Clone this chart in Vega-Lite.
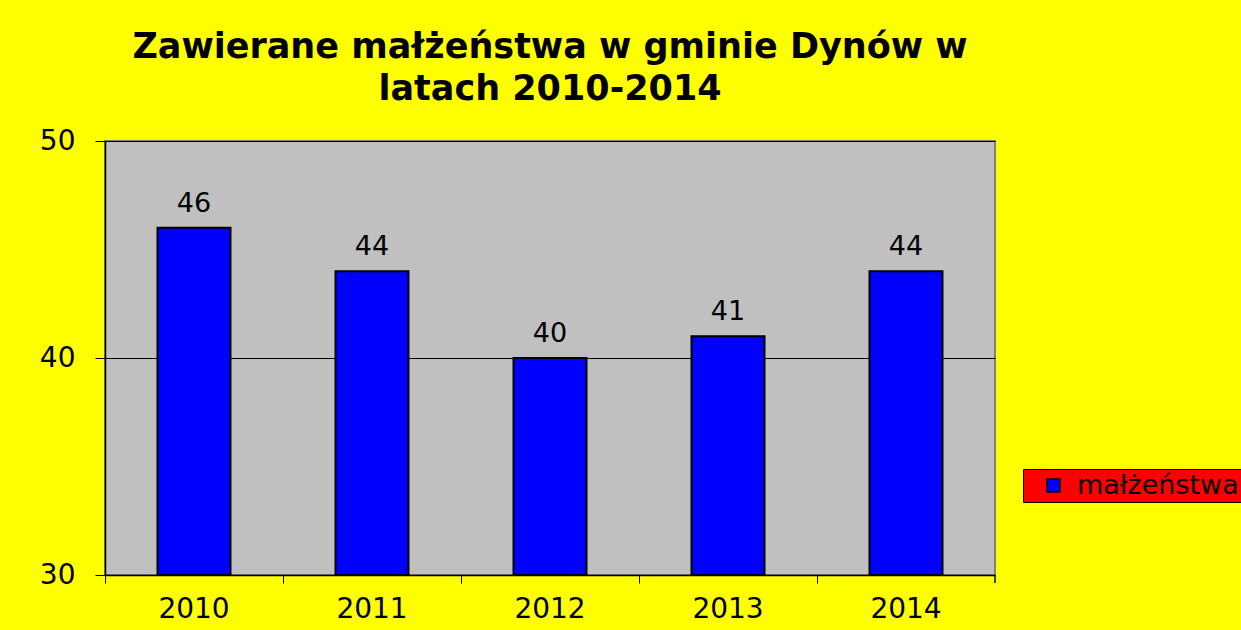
{
  "$schema": "https://vega.github.io/schema/vega-lite/v6.json",
  "autosize": {"type": "none"},
  "width": 890,
  "height": 434,
  "padding": {"left": 105, "top": 141, "right": 246, "bottom": 55},
  "background": "#FFFF00",
  "title": {
    "text": ["Zawierane małżeństwa w gminie Dynów w", "latach 2010-2014"],
    "font": "DejaVu Sans",
    "fontSize": 35,
    "fontWeight": "bold",
    "color": "#000000",
    "anchor": "middle",
    "frame": "group",
    "lineHeight": 42,
    "offset": 20
  },
  "data": {
    "values": [
      {"rok": "2010", "liczba": 46, "seria": "małżeństwa"},
      {"rok": "2011", "liczba": 44, "seria": "małżeństwa"},
      {"rok": "2012", "liczba": 40, "seria": "małżeństwa"},
      {"rok": "2013", "liczba": 41, "seria": "małżeństwa"},
      {"rok": "2014", "liczba": 44, "seria": "małżeństwa"}
    ]
  },
  "encoding": {
    "x": {
      "field": "rok",
      "type": "ordinal",
      "scale": {"paddingInner": 0, "paddingOuter": 0},
      "axis": {
        "title": null,
        "labelAngle": 0,
        "labelFont": "DejaVu Sans",
        "labelFontSize": 28,
        "labelColor": "#000000",
        "labelPadding": 12,
        "bandPosition": 0,
        "tickSize": 8,
        "tickColor": "#000000",
        "domainColor": "#000000",
        "domainWidth": 1.5,
        "grid": false
      }
    },
    "y": {
      "field": "liczba",
      "type": "quantitative",
      "scale": {"domain": [30, 50], "zero": false, "nice": false},
      "axis": {
        "title": null,
        "values": [30, 40, 50],
        "labelFont": "DejaVu Sans",
        "labelFontSize": 28,
        "labelColor": "#000000",
        "labelPadding": 20,
        "tickSize": 10,
        "tickColor": "#000000",
        "domainColor": "#000000",
        "domainWidth": 1.5,
        "grid": true,
        "gridColor": "#000000",
        "gridWidth": 1,
        "gridOpacity": 1
      }
    }
  },
  "layer": [
    {
      "mark": {"type": "bar", "width": {"band": 0.41}, "stroke": "#000000", "strokeWidth": 2, "clip": true},
      "encoding": {
        "y2": {"datum": 30},
        "color": {
          "field": "seria",
          "type": "nominal",
          "scale": {"domain": ["małżeństwa"], "range": ["#0000FF"]},
          "legend": {
            "title": null,
            "orient": "none",
            "legendX": 918,
            "legendY": 328,
            "fillColor": "#FF0000",
            "strokeColor": "#000000",
            "padding": 3,
            "symbolType": "square",
            "symbolSize": 169,
            "symbolStrokeColor": "#000000",
            "symbolStrokeWidth": 1.5,
            "symbolOffset": 14,
            "labelFont": "DejaVu Sans",
            "labelFontSize": 27,
            "labelLimit": 400,
            "labelColor": "#000000",
            "labelOffset": 10
          }
        }
      }
    },
    {
      "mark": {"type": "text", "baseline": "alphabetic", "dy": -16, "font": "DejaVu Sans", "fontSize": 27, "color": "#000000"},
      "encoding": {"text": {"field": "liczba", "type": "quantitative"}}
    },
    {
      "transform": [{"filter": "datum.rok === '2014'"}],
      "mark": {"type": "rule", "color": "#000000", "strokeWidth": 1.5, "y2Offset": 8},
      "encoding": {
        "x": {"field": "rok", "type": "ordinal", "bandPosition": 1},
        "y": {"datum": 30},
        "y2": {"datum": 30}
      }
    }
  ],
  "config": {
    "view": {"fill": "#C0C0C0", "stroke": "#808080", "strokeWidth": 2}
  }
}
